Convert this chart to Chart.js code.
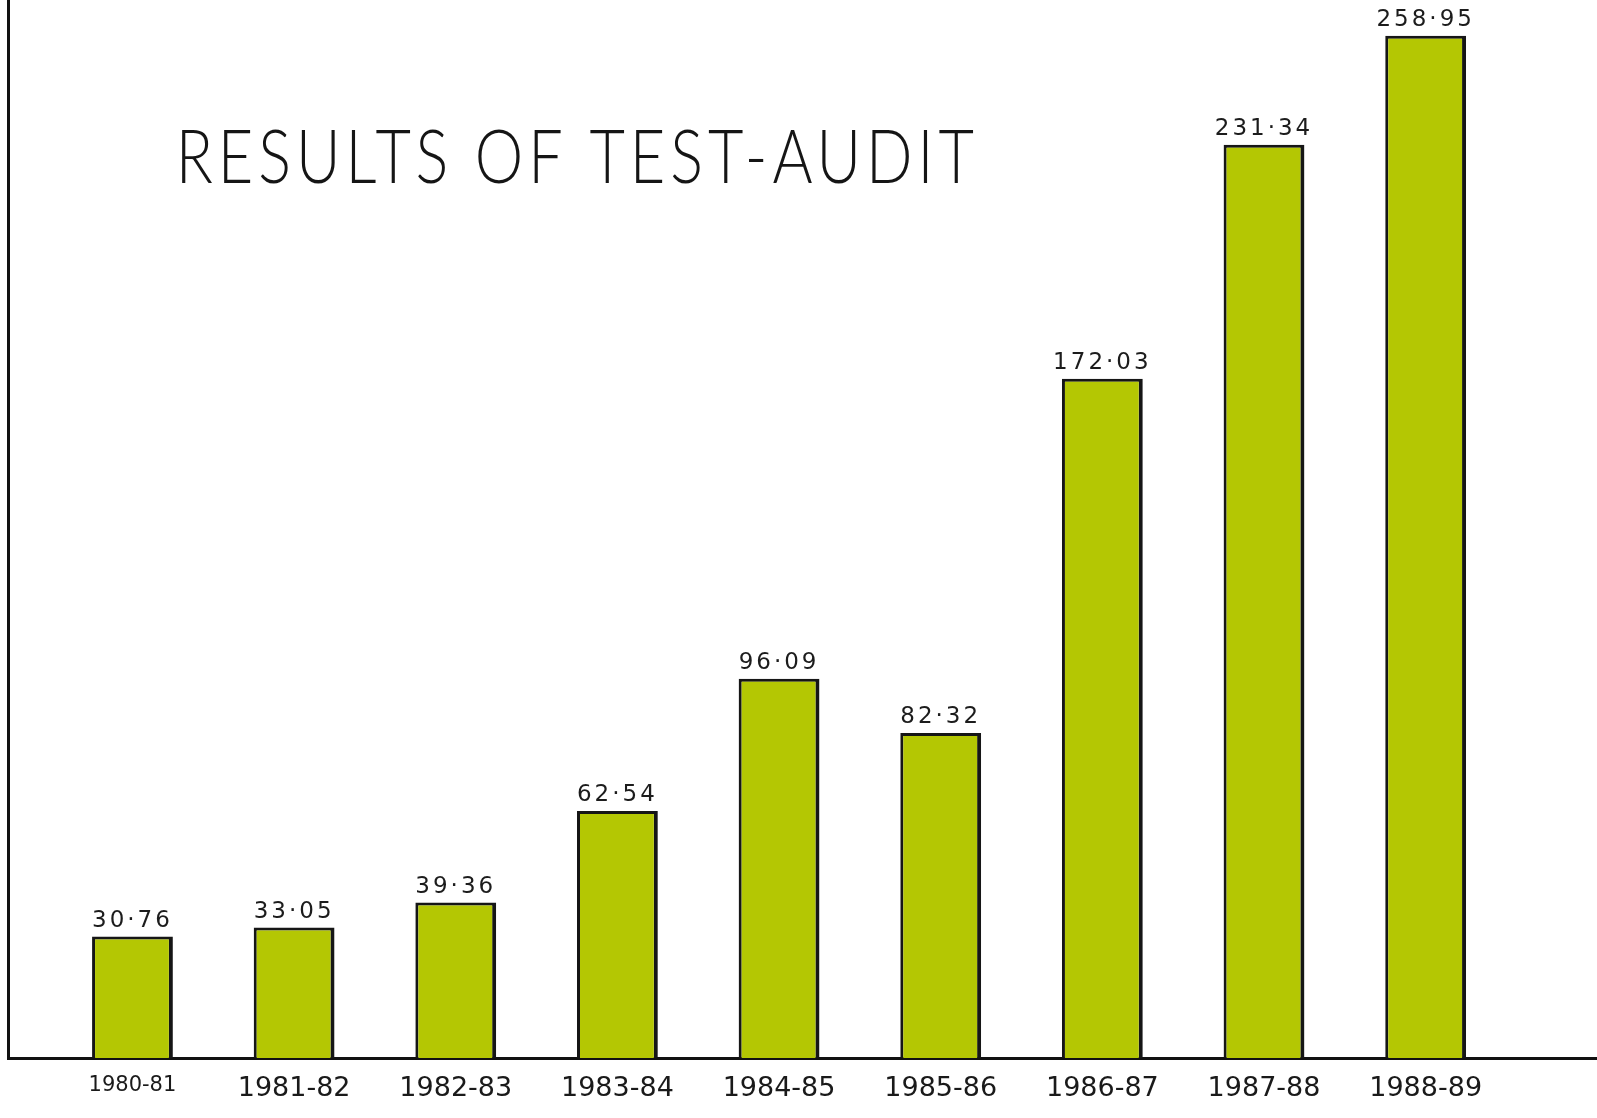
<!DOCTYPE html>
<html>
<head>
<meta charset="utf-8">
<script src="https://cdn.jsdelivr.net/npm/chart.js@4.4.1/dist/chart.umd.min.js"></script>
<style>
  html, body { margin: 0; padding: 0; background: #fff; }
  canvas { display: block; }
</style>
</head>
<body>
<canvas id="auditChart" width="1597" height="1118"></canvas>
<script>
const years = ['1980-81', '1981-82', '1982-83', '1983-84', '1984-85', '1985-86', '1986-87', '1987-88', '1988-89'];
const amounts = [30.76, 33.05, 39.36, 62.54, 96.09, 82.32, 172.03, 231.34, 258.95];
const chartTitle = 'RESULTS OF TEST-AUDIT';

// title is hand lettered, sits left of centre
const titlePlugin = {
  id: 'titlePlugin',
  beforeDraw(chart) {
    const { ctx, width, height } = chart;
    ctx.save();
    ctx.font = '300 74px Lato, "Liberation Sans"';
    ctx.fillStyle = '#151515';
    ctx.textBaseline = 'middle';
    ctx.letterSpacing = '6px';
    ctx.fillText(chartTitle, width * 0.11, height * 0.142, width * 0.503);
    ctx.restore();
  }
};

// value written above each bar
const valueLabels = {
  id: 'valueLabels',
  afterDatasetsDraw(chart) {
    const { ctx } = chart;
    const meta = chart.getDatasetMeta(0);
    ctx.save();
    ctx.font = '23px "DejaVu Sans"';
    ctx.fillStyle = '#1c1c1c';
    ctx.textAlign = 'center';
    ctx.textBaseline = 'alphabetic';
    ctx.letterSpacing = '3px';
    meta.data.forEach((bar, i) => {
      ctx.fillText(amounts[i].toFixed(2).replace('.', '·'), bar.x, bar.y - 10);
    });
    ctx.restore();
  }
};

const ctx = document.getElementById('auditChart');

new Chart(ctx, {
  type: 'bar',
  data: {
    datasets: [{
      data: amounts.map((v, i) => ({ x: i, y: v })),
      backgroundColor: '#b4c703',
      borderColor: '#161616',
      borderWidth: { left: 3, right: 4, top: 3, bottom: 0 },
      borderSkipped: 'bottom',
      categoryPercentage: 1,
      barPercentage: 0.5
    }]
  },
  options: {
    responsive: false,
    animation: false,
    layout: { padding: { left: 8, top: 0, right: 0, bottom: 0 } },
    plugins: {
      legend: { display: false },
      tooltip: { enabled: false }
    },
    scales: {
      x: {
        type: 'linear',
        offset: false,
        min: -0.77,
        max: 9.06,
        grid: { display: false, drawTicks: false },
        border: { display: true, color: '#111', width: 3 },
        afterFit: scale => { scale.height = 60; },
        afterBuildTicks: scale => { scale.ticks = years.map((_, i) => ({ value: i })); },
        ticks: {
          autoSkip: false,
          maxRotation: 0,
          padding: 15,
          color: '#1a1a1a',
          font: c => ({ family: 'DejaVu Sans', size: c.index === 0 ? 21 : 27 }),
          callback: value => years[value] ?? ''
        }
      },
      y: {
        min: 0,
        max: 268,
        grid: { display: false, drawTicks: false },
        border: { display: true, color: '#111', width: 3 },
        ticks: { display: false },
        afterFit: scale => { scale.width = 0; }
      }
    }
  },
  plugins: [titlePlugin, valueLabels]
});
</script>
</body>
</html>
